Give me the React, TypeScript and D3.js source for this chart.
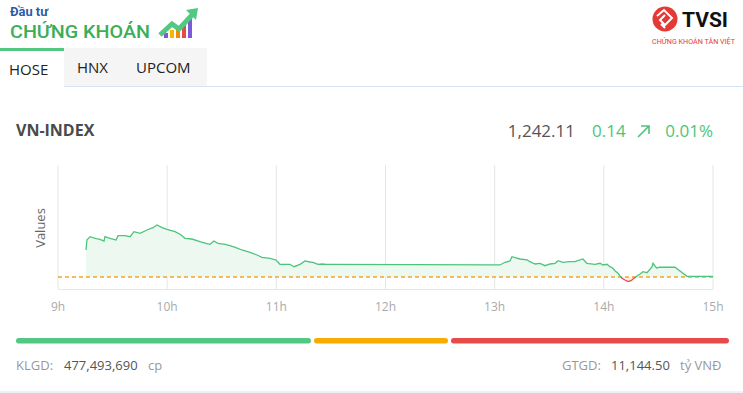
import React from "react";
import * as d3 from "d3";

// intraday VN-INDEX points
const times = [
  "09:15:24", "09:15:54", "09:17:36", "09:19:12", "09:21:00", "09:23:06", "09:25:18", "09:25:48",
  "09:28:36", "09:31:54", "09:33:00", "09:36:48", "09:39:36", "09:41:48", "09:45:06", "09:48:54",
  "09:52:12", "09:54:24", "09:57:12", "09:59:54", "10:04:18", "10:07:06", "10:09:48", "10:13:36",
  "10:18:00", "10:21:18", "10:23:30", "10:25:42", "10:27:54", "10:31:48", "10:34:30", "10:37:48",
  "10:41:06", "10:45:30", "10:49:24", "10:52:06", "10:56:30", "10:59:48", "11:02:00", "11:07:30",
  "11:09:42", "11:13:00", "11:15:48", "11:18:30", "11:20:06", "11:22:54", "11:25:06", "11:27:48",
  "11:29:30", "13:00:00", "13:02:54", "13:05:42", "13:08:24", "13:09:30", "13:11:12", "13:13:54",
  "13:17:48", "13:19:24", "13:22:12", "13:24:54", "13:27:42", "13:30:24", "13:33:12", "13:34:48",
  "13:37:30", "13:41:24", "13:44:06", "13:48:30", "13:50:42", "13:55:06", "13:57:54", "13:59:30",
  "14:01:42", "14:03:24", "14:05:00", "14:06:06", "14:07:48", "14:08:54", "14:10:00", "14:11:36",
  "14:13:18", "14:14:54", "14:16:36", "14:18:12", "14:19:54", "14:21:30", "14:23:42", "14:25:24",
  "14:26:30", "14:27:00", "14:28:06", "14:29:12", "14:30:18", "14:39:06", "14:45:42", "15:00:00",
];
const values = [
  1247.97, 1250.19, 1250.93, 1250.70, 1250.52, 1250.35, 1249.97, 1250.93,
  1250.57, 1250.19, 1251.15, 1251.15, 1250.93, 1252.04, 1251.68, 1252.41,
  1252.93, 1253.53, 1252.93, 1252.57, 1252.04, 1251.46, 1250.57, 1250.41,
  1249.81, 1249.46, 1249.24, 1249.97, 1249.46, 1249.24, 1248.93, 1248.48,
  1247.97, 1247.46, 1246.86, 1246.35, 1246.13, 1245.75, 1244.79, 1244.79,
  1244.26, 1244.79, 1245.53, 1245.30, 1245.24, 1244.79, 1244.86, 1244.79,
  1244.79, 1244.64, 1244.64, 1245.24, 1245.53, 1246.48, 1246.26, 1245.97,
  1245.75, 1245.37, 1244.86, 1245.01, 1244.48, 1244.86, 1245.01, 1245.59,
  1245.24, 1245.37, 1245.37, 1245.97, 1245.01, 1244.79, 1245.01, 1244.64,
  1244.79, 1244.26, 1243.90, 1243.37, 1242.79, 1242.19, 1241.68, 1241.30,
  1240.93, 1241.15, 1241.68, 1242.19, 1242.64, 1243.15, 1242.93, 1243.68,
  1244.26, 1245.01, 1244.41, 1243.90, 1244.13, 1244.13, 1242.11, 1242.11,
];
const refValue = 1241.97;
const hourTicks = ["09:00:00", "10:00:00", "11:00:00", "12:00:00", "13:00:00", "14:00:00", "15:00:00"];

// breadth bar: advancing / unchanged / declining widths
const breadth = [295, 134, 278];
const breadthColors = ["#52c882", "#f8ab00", "#e84a4a"];

const FONT = "'Open Sans', 'Noto Sans', sans-serif";
const GREEN = "#4cc57a";
const RED = "#e84a4a";

export default function App() {
  const W = 743, H = 393;
  const parse = d3.timeParse("%H:%M:%S");
  const data = times.map((t, i) => ({ t: parse(t) as Date, v: values[i] }));
  const ticks = hourTicks.map((t) => parse(t) as Date);

  const x = d3.scaleTime().domain([ticks[0], ticks[ticks.length - 1]]).range([58, 713]);
  const y = d3.scaleLinear().domain([1239.3, 1266.86]).range([289, 165]);
  const yRef = y(refValue);

  const line = d3.line<{ t: Date; v: number }>().x((d) => x(d.t)).y((d) => y(d.v));
  const area = d3.area<{ t: Date; v: number }>().x((d) => x(d.t)).y0(yRef).y1((d) => y(d.v));

  // breadth bar positions
  let acc = 16;
  const gap = 3;
  const bars = breadth.map((w, i) => {
    const b = { x: acc, w, c: breadthColors[i] };
    acc += w + gap;
    return b;
  });

  return (
    <svg width={W} height={H} style={{ position: "absolute", left: 0, top: 0, background: "#fff" }} fontFamily={FONT}>
      <defs>
        <clipPath id="above"><rect x={0} y={0} width={W} height={yRef} /></clipPath>
        <clipPath id="below"><rect x={0} y={yRef} width={W} height={H - yRef} /></clipPath>
      </defs>

      {/* Dau tu Chung khoan logo */}
      <text x={10} y={16} fontSize={12.5} fontWeight="bold" fill="#2b5ca8" fontFamily="Roboto, sans-serif" textLength={38} lengthAdjust="spacingAndGlyphs">Đầu tư</text>
      <text x={10} y={38} fontSize={19} fontWeight={500} fill="#3dae57" fontFamily="Roboto, sans-serif" textLength={140} lengthAdjust="spacingAndGlyphs">CHỨNG KHOÁN</text>
      <g>
        <rect x={164} y={33} width={4} height={5} fill="#7b5bd6" />
        <rect x={170} y={30} width={4} height={8} fill="#f5b700" />
        <rect x={176} y={27} width={4} height={11} fill="#f58a00" />
        <rect x={182} y={23} width={4} height={15} fill="#e84a4a" />
        <rect x={188} y={19} width={4} height={19} fill="#7b5bd6" />
        <path d="M160,35 L172,24 L179,29 L193,14" stroke="#52c882" strokeWidth={5} fill="none" strokeLinejoin="miter" />
        <path d="M186,10 L198,8 L196,20 Z" fill="#52c882" />
      </g>

      {/* TVSI logo */}
      <circle cx={665} cy={19} r={12.5} fill="#e53935" />
      <path d="M657,16 L664,10 L672,18 L665,25 L660,20 L665,15 M661,24 L665,28" stroke="#fff" strokeWidth={2} fill="none" />
      <text x={682} y={27} fontSize={21} fontWeight="bold" fill="#111" fontFamily="Roboto, sans-serif">TVSI</text>
      <text x={652} y={44} fontSize={7} fill="#e53935" fontFamily="Roboto, sans-serif" textLength={83} lengthAdjust="spacingAndGlyphs">CHỨNG KHOÁN TÂN VIỆT</text>

      {/* tabs */}
      <rect x={64} y={48} width={143} height={38} fill="#f5f5f5" />
      <rect x={0} y={48} width={64} height={3} fill="#52c882" />
      <line x1={64} x2={W} y1={86.5} y2={86.5} stroke="#d5e4f6" />
      <text x={9} y={75} fontSize={15} fill="#222">HOSE</text>
      <text x={77} y={73} fontSize={15} fill="#222">HNX</text>
      <text x={136} y={73} fontSize={15} fill="#222">UPCOM</text>

      {/* header */}
      <text x={16} y={136} fontSize={16} fontWeight="bold" fill="#4a4a4a">VN-INDEX</text>
      <text x={575} y={137} fontSize={17} fill="#555" textAnchor="end">1,242.11</text>
      <text x={592} y={137} fontSize={17} fill={GREEN}>0.14</text>
      <path d="M638,137 L649,126 M641,126 L649,126 L649,134" stroke={GREEN} strokeWidth={1.6} fill="none" />
      <text x={713} y={137} fontSize={17} fill={GREEN} textAnchor="end">0.01%</text>

      {/* chart grid */}
      {ticks.map((t, i) => (
        <g key={i}>
          <line x1={x(t)} x2={x(t)} y1={165} y2={289} stroke="#e6e6e6" />
          <text x={x(t)} y={311} fontSize={12} fill="#aaa" textAnchor="middle">{d3.timeFormat("%-Hh")(t)}</text>
        </g>
      ))}
      <line x1={58} x2={713} y1={289.5} y2={289.5} stroke="#e6e6e6" />
      <text transform="translate(45,228) rotate(-90)" fontSize={13} fill="#666" textAnchor="middle">Values</text>

      {/* area + line, split at reference */}
      <path d={area(data) || ""} fill="#edf8f1" clipPath="url(#above)" />
      <path d={area(data) || ""} fill="#fdecec" clipPath="url(#below)" />
      <line x1={58} x2={713} y1={yRef} y2={yRef} stroke="#f5a623" strokeWidth={1.4} strokeDasharray="4,3" />
      <path d={line(data) || ""} fill="none" stroke={GREEN} strokeWidth={1.3} clipPath="url(#above)" />
      <path d={line(data) || ""} fill="none" stroke={RED} strokeWidth={1.3} clipPath="url(#below)" />

      {/* breadth bar */}
      {bars.map((b, i) => (
        <rect key={i} x={b.x} y={338} width={b.w} height={5.5} rx={2.7} fill={b.c} />
      ))}

      {/* footer */}
      <text y={370} fontSize={13}>
        <tspan x={16} fill="#999">KLGD:</tspan>
        <tspan x={64} fill="#555">477,493,690</tspan>
        <tspan x={148} fill="#999">cp</tspan>
      </text>
      <text y={370} fontSize={13}>
        <tspan x={562} fill="#999">GTGD:</tspan>
        <tspan x={611} fill="#555">11,144.50</tspan>
        <tspan x={680} fill="#999">tỷ VNĐ</tspan>
      </text>
      <line x1={0} x2={W} y1={392} y2={392} stroke="#d5e4f6" />
    </svg>
  );
}
